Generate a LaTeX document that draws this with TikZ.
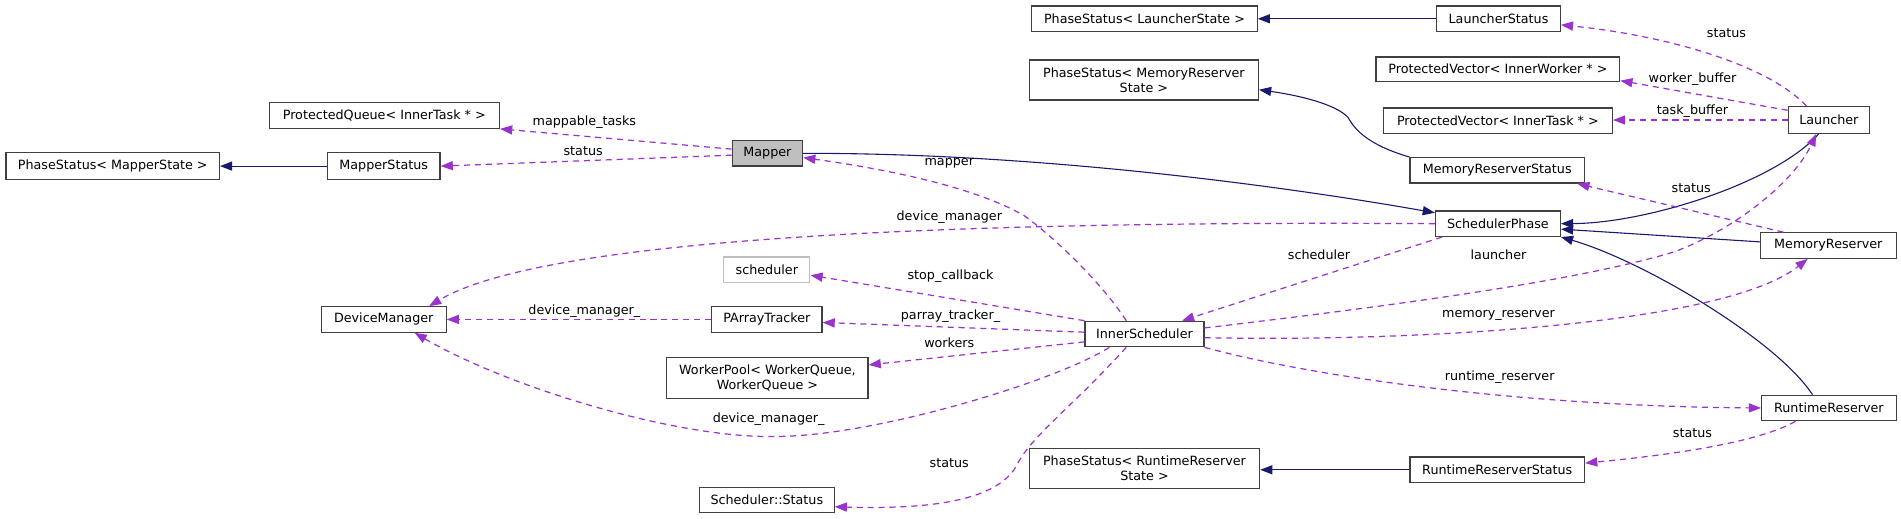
\documentclass[tikz,border=0pt]{standalone}
\usepackage{fontspec}
\setmainfont{DejaVu Sans}
\usetikzlibrary{arrows.meta,calc}
\definecolor{navyedge}{HTML}{191970}
\definecolor{useedge}{HTML}{9A32CD}
\definecolor{boxline}{HTML}{404040}
\definecolor{grayfill}{HTML}{BFBFBF}
\begin{document}
\begin{tikzpicture}[x=1pt,y=-1pt,
  font=\fontsize{10.5}{12.5}\selectfont,
  cls/.style={draw=boxline, line width=1pt, fill=white, inner sep=0pt, align=center, minimum height=21pt},
  inh/.style={draw=navyedge, line width=0.9pt, -{Triangle[length=10pt,width=7.5pt]}},
  usage/.style={draw=useedge, line width=1pt, dash pattern=on 5pt off 4pt, -{Triangle[length=10pt,width=7.5pt]}},
  lbl/.style={inner sep=0pt, text=black}]
\useasboundingbox (0,0) rectangle (1568,428);
\fill[white] (0,0) rectangle (1568,428);

% nodes
\node[cls, minimum width=176pt, minimum height=22pt] (psMapper) at (93,137) {PhaseStatus< MapperState >};
\node[cls, minimum width=93pt, minimum height=22pt] (mapperStatus) at (316.5,137) {MapperStatus};
\node[cls, minimum width=190pt] (pq) at (317,95.3) {ProtectedQueue< InnerTask * >};
\node[cls, fill=grayfill, minimum width=58pt] (mapper) at (633,126.5) {Mapper};
\node[cls, minimum width=186pt] (psLauncher) at (944,15.5) {PhaseStatus< LauncherState >};
\node[cls, minimum width=102pt] (launcherStatus) at (1236,15.5) {LauncherStatus};
\node[cls, minimum width=189pt, minimum height=33pt] (psMemRes) at (943.5,66) {PhaseStatus< MemoryReserver\\State >};
\node[cls, minimum width=201pt, minimum height=20pt] (pvWorker) at (1235.5,57) {ProtectedVector< InnerWorker * >};
\node[cls, minimum width=189pt] (pvTask) at (1235.5,99.5) {ProtectedVector< InnerTask * >};
\node[cls, minimum width=67pt, minimum height=22pt] (launcher) at (1508.5,99) {Launcher};
\node[cls, minimum width=144pt] (mrs) at (1235,140.5) {MemoryReserverStatus};
\node[cls, minimum width=103pt] (sp) at (1235.5,184.5) {SchedulerPhase};
\node[cls, minimum width=112pt] (memRes) at (1508,202.5) {MemoryReserver};
\node[cls, draw=grayfill, minimum width=71pt] (schedBox) at (632.5,222.5) {scheduler};
\node[cls, minimum width=103pt] (dm) at (316.5,263.5) {DeviceManager};
\node[cls, minimum width=91pt] (pat) at (632.5,263.5) {PArrayTracker};
\node[cls, minimum width=98pt] (is) at (944,275.5) {InnerScheduler};
\node[cls, minimum width=166pt, minimum height=34pt] (wp) at (633,312) {WorkerPool< WorkerQueue,\\WorkerQueue >};
\node[cls, minimum width=111pt] (rr) at (1508.5,336.5) {RuntimeReserver};
\node[cls, minimum width=190pt, minimum height=33pt] (psRR) at (944,386.5) {PhaseStatus< RuntimeReserver\\State >};
\node[cls, minimum width=144pt] (rrs) at (1235,387.5) {RuntimeReserverStatus};
\node[cls, minimum width=111pt] (ss) at (632.5,412.5) {Scheduler::Status};

% inheritance edges
\draw[inh] (mapperStatus.west) -- (psMapper.east);
\draw[inh] (launcherStatus.west) -- (psLauncher.east);
\draw[inh] (mrs.north west) .. controls (1130,120) and (1118,108) .. (1112,97) .. controls (1104,88) and (1080,80) .. ([yshift=-8pt]psMemRes.east);
\draw[inh] (mapper.east) .. controls (850,126) and (1050,152) .. ([yshift=-2pt]sp.north west);
\draw[inh] ([xshift=-8.5pt]launcher.south) .. controls (1465,150) and (1360,184) .. (sp.east);
\draw[inh] ([yshift=3pt]memRes.west) -- ([yshift=-4.5pt]sp.east);
\draw[inh] ([xshift=-13.5pt]rr.north) .. controls (1465,280) and (1355,215) .. (sp.south east);
\draw[inh] (rrs.west) -- (rrs.west -| psRR.east);

% usage edges
\draw[usage] ([yshift=3.5pt]mapper.west) -- (pq.south east);
\draw[usage] ([yshift=-1.5pt]mapper.west) -- (mapperStatus.east);
\draw[usage] ([xshift=-15pt]is.north) .. controls (912,238) and (875,200) .. (845,178) .. controls (800,152) and (720,138) .. ([yshift=-3.5pt]mapper.east);
\draw[usage] (sp.west) .. controls (800,182) and (450,195) .. ([xshift=37.5pt]dm.north);
\draw[usage] (is.north west) -- ([yshift=-4.5pt]schedBox.east);
\draw[usage] ([yshift=1.5pt]is.west) -- ([yshift=-2.5pt]pat.east);
\draw[usage] (pat.west) -- (dm.east);
\draw[usage] ([yshift=-6.5pt]is.west) -- ([yshift=11pt]wp.east);
\draw[usage] ([xshift=-29pt]is.south) .. controls (870,315) and (720,360) .. (640,360) .. controls (560,362) and (420,320) .. ([xshift=25.5pt]dm.south);
\draw[usage] ([xshift=-15pt]is.south) .. controls (880,340) and (850,360) .. (838,385) .. controls (820,415) and (760,420) .. ([yshift=-5.5pt]ss.east);
\draw[usage] ([xshift=-46pt]sp.south) -- ([xshift=31pt]is.north);
\draw[usage] ([yshift=5pt]is.east) .. controls (1150,252) and (1300,232) .. (1380,208) .. controls (1430,190) and (1480,150) .. ([xshift=-10.5pt]launcher.south);
\draw[usage] ([yshift=-3pt]is.east) .. controls (1150,282) and (1420,270) .. ([xshift=-17pt]memRes.south);
\draw[usage] (is.south east) .. controls (1080,310) and (1250,335) .. (rr.west);
\draw[usage] ([xshift=-27.5pt]rr.south) .. controls (1450,365) and (1380,375) .. ([yshift=5.5pt]rrs.east);
\draw[usage] ([xshift=-37pt]memRes.north) -- ([xshift=66pt]mrs.south);
\draw[usage] ([xshift=-18.5pt]launcher.north) .. controls (1460,55) and (1380,30) .. ([yshift=-5pt]launcherStatus.east);
\draw[usage] ([yshift=8pt]launcher.west) -- ([yshift=1pt]pvWorker.south east);
\draw[usage] (launcher.west) -- (launcher.west -| pvTask.east);

% labels
\node[lbl] (l1) at (482,101) {mappable\_tasks};
\node[lbl] (l2) at (481,125) {status};
\node[lbl] (l3) at (783,135) {mapper};
\node[lbl] (l4) at (783,179) {device\_manager};
\node[lbl] (l5) at (784,228) {stop\_callback};
\node[lbl] (l6) at (784,261) {parray\_tracker\_};
\node[lbl] (l7) at (482,257) {device\_manager\_};
\node[lbl] (l8) at (783,283) {workers};
\node[lbl] (l9) at (634,346) {device\_manager\_};
\node[lbl] (l10) at (783,382) {status};
\node[lbl] (l11) at (1088,210) {scheduler};
\node[lbl] (l12) at (1236,210) {launcher};
\node[lbl] (l13) at (1236,260) {memory\_reserver};
\node[lbl] (l14) at (1237,311) {runtime\_reserver};
\node[lbl] (l15) at (1396,357) {status};
\node[lbl] (l16) at (1395,155) {status};
\node[lbl] (l17) at (1424,27) {status};
\node[lbl] (l18) at (1396,65) {worker\_buffer};
\node[lbl] (l19) at (1396,92) {task\_buffer};
\end{tikzpicture}
\end{document}
